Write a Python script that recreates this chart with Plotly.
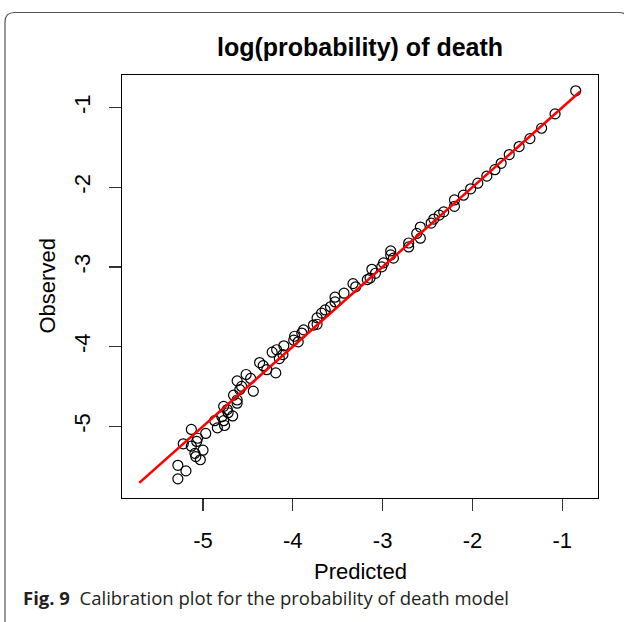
import plotly.graph_objects as go

# ---- data ----
predicted = [-0.85, -1.08, -1.23, -1.36, -1.48, -1.59, -1.68, -1.75, -1.84, -1.94,
             -2.02, -2.10, -2.20, -2.20, -2.32, -2.37, -2.43, -2.46, -2.58, -2.62,
             -2.58, -2.71, -2.71, -2.91, -2.91, -2.88, -2.99, -3.01, -3.08, -3.12,
             -3.14, -3.17, -3.33, -3.30, -3.43, -3.53, -3.53, -3.58, -3.64, -3.68,
             -3.73, -3.73, -3.77, -3.88, -3.90, -3.98, -3.99, -3.94, -4.10, -4.18,
             -4.23, -4.15, -4.11, -4.37, -4.33, -4.29, -4.19, -4.52, -4.47, -4.62,
             -4.57, -4.59, -4.44, -4.66, -4.62, -4.62, -4.77, -4.73, -4.72, -4.67,
             -4.79, -4.77, -4.76, -4.87, -4.84, -5.13, -4.97, -5.06, -5.22, -5.13,
             -5.07, -5.00, -5.09, -5.08, -5.03, -5.28, -5.19, -5.28]
observed = [-0.79, -1.08, -1.26, -1.39, -1.49, -1.59, -1.70, -1.78, -1.86, -1.95,
            -2.02, -2.10, -2.16, -2.24, -2.31, -2.35, -2.40, -2.45, -2.50, -2.58,
            -2.64, -2.70, -2.75, -2.80, -2.85, -2.89, -2.95, -3.00, -3.08, -3.03,
            -3.14, -3.16, -3.21, -3.25, -3.33, -3.38, -3.44, -3.50, -3.54, -3.58,
            -3.64, -3.72, -3.73, -3.79, -3.83, -3.87, -3.92, -3.94, -3.99, -4.04,
            -4.07, -4.15, -4.10, -4.20, -4.24, -4.29, -4.33, -4.35, -4.40, -4.43,
            -4.50, -4.54, -4.56, -4.61, -4.67, -4.71, -4.75, -4.79, -4.83, -4.87,
            -4.88, -4.93, -4.99, -4.93, -5.02, -5.04, -5.09, -5.15, -5.22, -5.25,
            -5.19, -5.30, -5.34, -5.38, -5.42, -5.49, -5.56, -5.66]
fit_x = [-5.71, -0.80]
fit_y = [-5.71, -0.80]
tick_vals = [-5, -4, -3, -2, -1]
tick_text = ["-5", "-4", "-3", "-2", "-1"]
x_range = [-5.902, -0.602]
y_range = [-5.90, -0.592]

title_text = "log(probability) of death"
x_title = "Predicted"
y_title = "Observed"
caption_bold = "Fig. 9"
caption_text = "Calibration plot for the probability of death model"

# ---- layout geometry (pixels) ----
W, H = 624, 622
L, R, T, B = 122, 598, 75, 498
pw, ph = R - L, B - T


def px(x):
    return (x - L) / pw


def py(y):
    return (B - y) / ph


AX_FONT = "Liberation Sans, Arial, sans-serif"

fig = go.Figure()
fig.add_trace(go.Scatter(
    x=predicted, y=observed, mode="markers",
    marker=dict(symbol="circle-open", size=10, color="black", line=dict(width=1.2)),
    showlegend=False, hoverinfo="skip"))
fig.add_trace(go.Scatter(
    x=fit_x, y=fit_y, mode="lines",
    line=dict(color="#ff0000", width=2.6),
    showlegend=False, hoverinfo="skip"))

axis_common = dict(
    showline=True, mirror=True, linecolor="black", linewidth=1.3,
    ticks="outside", ticklen=12, tickwidth=1.3, tickcolor="#333",
    showgrid=False, zeroline=False,
    tickvals=tick_vals, ticktext=tick_text,
    tickfont=dict(family=AX_FONT, size=22, color="black"),
)

fig.update_layout(
    width=W, height=H, autosize=False,
    margin=dict(l=L, r=W - R, t=T, b=H - B, pad=0),
    paper_bgcolor="white", plot_bgcolor="white",
    xaxis=dict(range=x_range, ticklabelstandoff=10, **axis_common),
    yaxis=dict(range=y_range, tickangle=-90, ticklabelstandoff=10, **axis_common),
)

annotations = [
    dict(text="<b>" + title_text + "</b>", x=0.5, y=py(47), xref="paper", yref="paper",
         xanchor="center", yanchor="middle", showarrow=False,
         font=dict(family=AX_FONT, size=25, color="black")),
    dict(text=x_title, x=0.5, y=py(571), xref="paper", yref="paper",
         xanchor="center", yanchor="middle", showarrow=False,
         font=dict(family=AX_FONT, size=22, color="black")),
    dict(text=y_title, x=px(47), y=0.5, xref="paper", yref="paper",
         xanchor="center", yanchor="middle", showarrow=False, textangle=-90,
         font=dict(family=AX_FONT, size=22, color="black")),
    dict(text="<b>" + caption_bold + "</b>  " + caption_text, x=px(21), y=py(597),
         xref="paper", yref="paper", xanchor="left", yanchor="middle", showarrow=False,
         font=dict(family="Open Sans, Noto Sans, sans-serif", size=18.5, color="#231f20")),
]
fig.update_layout(annotations=annotations)

# outer rounded frame (right side runs off the canvas)
path = (f"M {px(5)} {py(640)} L {px(5)} {py(22)} Q {px(5)} {py(12.5)} {px(14.5)} {py(12.5)} "
        f"L {px(619)} {py(12.5)} Q {px(628)} {py(12.5)} {px(628)} {py(22)} L {px(628)} {py(640)}")
fig.add_shape(type="path", path=path, xref="paper", yref="paper",
              line=dict(color="#555555", width=1.2), layer="below")

fig.write_html("out.html", config={"displayModeBar": False, "staticPlot": True},
               post_script="document.body.style.margin='0px';document.body.style.overflow='hidden';")
